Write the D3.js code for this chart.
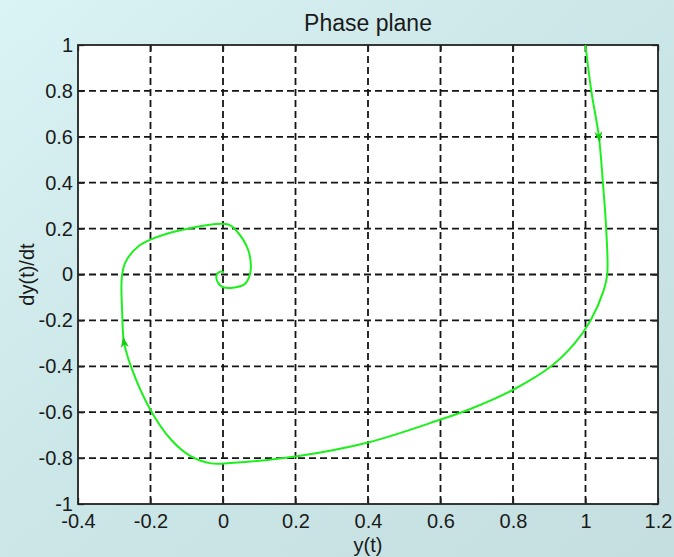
<!DOCTYPE html>
<html>
<head>
<meta charset="utf-8">
<script src="https://cdn.jsdelivr.net/npm/d3@7"></script>
<style>
  body { margin: 0; }
  svg text { font-family: "Liberation Sans", Arial, sans-serif; fill: #1a1a1a; }
</style>
</head>
<body>
<div id="chart"></div>
<script>
// trajectory: y(t) and dy(t)/dt
const yt = [1.0, 1.016, 1.037, 1.048, 1.057, 1.06, 1.05, 1.014, 0.97, 0.905, 0.803, 0.684, 0.6,
  0.4, 0.2, 0.03, -0.033, -0.088, -0.143, -0.2, -0.254, -0.273, -0.278, -0.279, -0.268, -0.234, -0.2,
  -0.108, 0.014, 0.041, 0.069, 0.077, 0.072, 0.058, 0.003, -0.014, -0.017, -0.006, 0.003];
const dydt = [1.0, 0.8, 0.6, 0.4, 0.2, 0.0, -0.07, -0.2, -0.3, -0.4, -0.5, -0.585, -0.632,
  -0.732, -0.793, -0.82, -0.823, -0.793, -0.72, -0.59, -0.40, -0.296, -0.17, -0.01, 0.057, 0.122, 0.152,
  0.196, 0.218, 0.183, 0.109, 0.035, -0.013, -0.044, -0.057, -0.035, 0, 0.013, 0.009];
// arrowheads: index of point on trajectory
const arrowAt = [2, 21];

const xTicks = [-0.4, -0.2, 0, 0.2, 0.4, 0.6, 0.8, 1, 1.2];
const yTicks = [-1, -0.8, -0.6, -0.4, -0.2, 0, 0.2, 0.4, 0.6, 0.8, 1];

const largura = 674, altura = 557;
const m = { left: 78, right: 16, top: 45, bottom: 53 };

const svg = d3.select('#chart')
  .append('svg')
  .attr('width', largura)
  .attr('height', altura);

const grad = svg.append('defs').append('linearGradient')
  .attr('id', 'bg').attr('x1', '0').attr('y1', '0').attr('x2', '1').attr('y2', '1');
grad.append('stop').attr('offset', '0%').attr('stop-color', '#daf3f4');
grad.append('stop').attr('offset', '45%').attr('stop-color', '#cce7e8');
grad.append('stop').attr('offset', '100%').attr('stop-color', '#c5dfe0');

svg.append('rect')
  .attr('width', largura).attr('height', altura)
  .attr('fill', 'url(#bg)');

const x = d3.scaleLinear().domain([-0.4, 1.2]).range([m.left, largura - m.right]);
const y = d3.scaleLinear().domain([-1, 1]).range([altura - m.bottom, m.top]);

// plot area
svg.append('rect')
  .attr('x', x(-0.4)).attr('y', y(1))
  .attr('width', x(1.2) - x(-0.4)).attr('height', y(-1) - y(1))
  .attr('fill', '#fff');

// grid
const grid = svg.append('g').attr('stroke', '#151515').attr('stroke-width', 1.8)
  .attr('stroke-dasharray', '7,4');
grid.selectAll('.gx').data(xTicks.slice(1, -1)).enter().append('line')
  .attr('x1', d => x(d)).attr('x2', d => x(d))
  .attr('y1', y(1)).attr('y2', y(-1));
grid.selectAll('.gy').data(yTicks.slice(1, -1)).enter().append('line')
  .attr('y1', d => y(d)).attr('y2', d => y(d))
  .attr('x1', x(-0.4)).attr('x2', x(1.2));

// axes (ticks inward on all sides)
const fmt = d => String(d);
svg.append('g').attr('transform', `translate(0,${y(-1)})`)
  .call(d3.axisBottom(x).tickValues(xTicks).tickFormat(fmt).tickSizeInner(-6).tickSizeOuter(0).tickPadding(10));
svg.append('g').attr('transform', `translate(0,${y(1)})`)
  .call(d3.axisTop(x).tickValues(xTicks).tickFormat('').tickSizeInner(-6).tickSizeOuter(0));
svg.append('g').attr('transform', `translate(${x(-0.4)},0)`)
  .call(d3.axisLeft(y).tickValues(yTicks).tickFormat(fmt).tickSizeInner(-6).tickSizeOuter(0).tickPadding(5));
svg.append('g').attr('transform', `translate(${x(1.2)},0)`)
  .call(d3.axisRight(y).tickValues(yTicks).tickFormat('').tickSizeInner(-6).tickSizeOuter(0));

svg.selectAll('.domain').remove();
svg.selectAll('.tick line').attr('stroke', '#222').attr('stroke-width', 1.3);
svg.selectAll('.tick text')
  .style('font-size', '20px')
  .style('font-family', '"Liberation Sans", Arial, sans-serif')
  .attr('fill', '#1a1a1a');

svg.append('rect')
  .attr('x', x(-0.4)).attr('y', y(1))
  .attr('width', x(1.2) - x(-0.4)).attr('height', y(-1) - y(1))
  .attr('fill', 'none').attr('stroke', '#222').attr('stroke-width', 1.8);

// trajectory
const pts = yt.map((v, i) => [v, dydt[i]]);
const line = d3.line()
  .x(d => x(d[0])).y(d => y(d[1]))
  .curve(d3.curveCatmullRom.alpha(0.5));
svg.append('path')
  .datum(pts)
  .attr('d', line)
  .attr('fill', 'none')
  .attr('stroke', '#1cf01c')
  .attr('stroke-width', 2);

// arrowheads
arrowAt.forEach(i => {
  const a = pts[i - 1], b = pts[i + 1];
  const ang = Math.atan2(y(b[1]) - y(a[1]), x(b[0]) - x(a[0])) * 180 / Math.PI;
  svg.append('path')
    .attr('d', 'M6,0 L-5,-4 L-2,0 L-5,4 Z')
    .attr('fill', '#10d010')
    .attr('transform', `translate(${x(pts[i][0])},${y(pts[i][1])}) rotate(${ang})`);
});

// titles
svg.append('text')
  .attr('x', (x(-0.4) + x(1.2)) / 2).attr('y', 31)
  .attr('text-anchor', 'middle')
  .style('font-size', '23px')
  .text('Phase plane');

svg.append('text')
  .attr('x', (x(-0.4) + x(1.2)) / 2).attr('y', 552)
  .attr('text-anchor', 'middle')
  .style('font-size', '20px')
  .text('y(t)');

svg.append('text')
  .attr('transform', `translate(34,${y(0)}) rotate(-90)`)
  .attr('text-anchor', 'middle')
  .style('font-size', '20px')
  .text('dy(t)/dt');
</script>
</body>
</html>
